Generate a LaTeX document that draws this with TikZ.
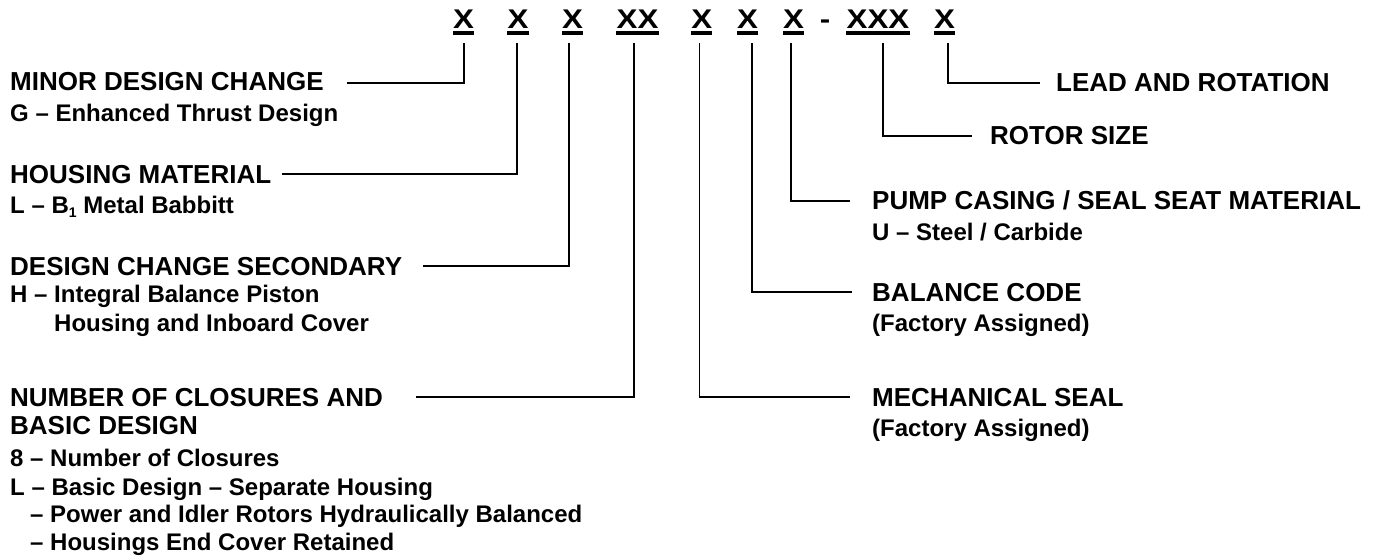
\documentclass[tikz,border=0pt]{standalone}
\usepackage{fontspec}
\setmainfont{Liberation Sans}
\newfontfamily\codefont{Liberation Sans}[FakeStretch=1.16]

\tikzset{
  code/.style={font=\codefont\fontsize{27}{30}\selectfont\bfseries, inner sep=0pt, anchor=base},
  head/.style={font=\fontsize{26}{30}\selectfont\bfseries, inner sep=0pt, anchor=base west},
  sub/.style={font=\fontsize{24}{28}\selectfont\bfseries, inner sep=0pt, anchor=base west},
  conn/.style={line width=1.6pt, black},
  uline/.style={line width=3.5pt, black},
}

\begin{document}
\begin{tikzpicture}[x=1pt, y=-1pt]
\useasboundingbox (0,0) rectangle (1385,559);

% model code characters
\node[code] (x1)  at (463.5,28.3) {X};
\node[code] (x2)  at (518,28.3)   {X};
\node[code] (x3)  at (572.5,28.3) {X};
\node[code] (x4)  at (637.5,28.3) {XX};
\node[code] (x5)  at (701.7,28.3) {X};
\node[code] (x6)  at (747.5,28.3) {X};
\node[code] (x7)  at (793.5,28.3) {X};
\node[code] (dash) at (825,28.3)  {-};
\node[code] (x8)  at (878,28.3)   {XXX};
\node[code] (x9)  at (944.5,28.3) {X};

\foreach \n in {x1,x2,x3,x4,x5,x6,x7,x8,x9}
  \draw[uline] ([yshift=-4.7pt]\n.south west) -- ([yshift=-4.7pt]\n.south east);

% left-hand descriptions
\node[head] (minor) at (10,91)    {MINOR DESIGN CHANGE};
\node[sub]  (minorG) at (10,122)  {G – Enhanced Thrust Design};

\node[head] (hous) at (10,183)    {HOUSING MATERIAL};
\node[sub]  (housL) at (10,213.5) {L – B\raisebox{-4.5pt}{\fontsize{14}{14}\selectfont 1} Metal Babbitt};

\node[head] (dcs) at (10,275)     {DESIGN CHANGE SECONDARY};
\node[sub]  (dcsH) at (10,302.5)  {H – Integral Balance Piston};
\node[sub]  (dcsH2) at (54,331.5) {Housing and Inboard Cover};

\node[head] (nc1) at (10,406)     {NUMBER OF CLOSURES AND};
\node[head] (nc2) at (10,434)     {BASIC DESIGN};
\node[sub]  (nc3) at (10,466.5)   {8 – Number of Closures};
\node[sub]  (nc4) at (10,495.5)   {L – Basic Design – Separate Housing};
\node[sub]  (nc5) at (30,522.5)   {– Power and Idler Rotors Hydraulically Balanced};
\node[sub]  (nc6) at (30,550.5)   {– Housings End Cover Retained};

% right-hand descriptions
\node[head] (lead) at (1056,92)   {LEAD AND ROTATION};
\node[head] (rotor) at (990,145)  {ROTOR SIZE};
\node[head] (pump) at (872,210)   {PUMP CASING / SEAL SEAT MATERIAL};
\node[sub]  (pumpU) at (872,240.5) {U – Steel / Carbide};
\node[head] (bal) at (872,301)    {BALANCE CODE};
\node[sub]  (balF) at (872,331.5) {(Factory Assigned)};
\node[head] (mech) at (872,406)   {MECHANICAL SEAL};
\node[sub]  (mechF) at (872,436.5) {(Factory Assigned)};

% connector ends beside the descriptions
\coordinate (c1) at (347,83);
\coordinate (c2) at (282,174);
\coordinate (c3) at (423,266);
\coordinate (c4) at (416,397);
\coordinate (c5) at (850,397);
\coordinate (c6) at (852,292);
\coordinate (c7) at (850,201);
\coordinate (c8) at (972,136);
\coordinate (c9) at (1040,83);

% connectors
\draw[conn] ([xshift=0.5pt]x1.south)  ++(0,-14.7pt) |- (c1);
\draw[conn] ([xshift=-1.3pt]x2.south) ++(0,-14.7pt) |- (c2);
\draw[conn] ([xshift=-3.8pt]x3.south) ++(0,-14.7pt) |- (c3);
\draw[conn] ([xshift=-3.5pt]x4.south) ++(0,-14.7pt) |- (c4);
\draw[conn] ([xshift=-2.4pt]x5.south) ++(0,-14.7pt) |- (c5);
\draw[conn] ([xshift=4.2pt]x6.south)  ++(0,-14.7pt) |- (c6);
\draw[conn] ([xshift=-2.5pt]x7.south) ++(0,-14.7pt) |- (c7);
\draw[conn] ([xshift=5pt]x8.south)    ++(0,-14.7pt) |- (c8);
\draw[conn] ([xshift=3.5pt]x9.south)  ++(0,-14.7pt) |- (c9);
\end{tikzpicture}
\end{document}
